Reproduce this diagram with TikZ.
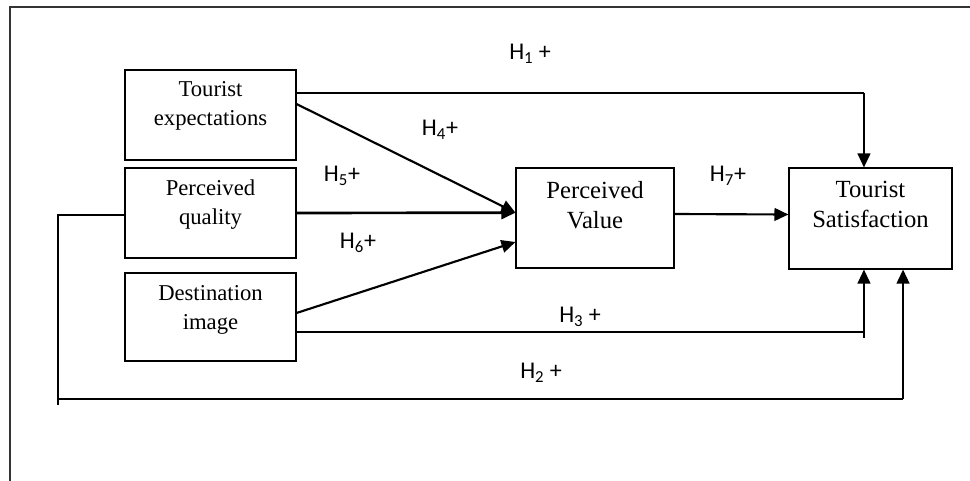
\documentclass[tikz,border=0pt]{standalone}
\usepackage{fontspec}
\setmainfont{Liberation Serif}
\newfontfamily\lblfont{Carlito}
\usetikzlibrary{arrows.meta}
\begin{document}
\begin{tikzpicture}[x=0.75pt,y=-0.75pt,
  box/.style={draw, line width=0.8pt, inner sep=0pt},
  boxtext/.style={anchor=north, align=center, inner sep=0pt, font=\fontsize{17}{21.5}\selectfont},
  bigtext/.style={anchor=north, align=center, inner sep=0pt, font=\fontsize{18.5}{22.5}\selectfont},
  hlab/.style={font=\lblfont\fontsize{18}{20}\selectfont, inner sep=0pt},
  thinline/.style={line width=0.8pt},
  arr/.style={line width=1.6pt, -{Triangle[length=10.5pt,width=9.5pt]}},
]
\useasboundingbox (0,0) rectangle (970,481);
% frame
\draw[line width=1pt, black!80] (10,481) -- (10,7) -- (970,7);

% boxes
\node[box, minimum width=171*0.75pt, minimum height=90*0.75pt] (TE) at (210.5,115) {};
\node[box, minimum width=171*0.75pt, minimum height=90*0.75pt] (PQ) at (210.5,213) {};
\node[box, minimum width=171*0.75pt, minimum height=88*0.75pt] (DI) at (210.5,317) {};
\node[box, minimum width=158*0.75pt, minimum height=100*0.75pt] (PV) at (595,218) {};
\node[box, minimum width=163*0.75pt, minimum height=101*0.75pt] (TS) at (870.5,218.5) {};

% box texts
\node[boxtext] (TEt) at ([yshift=-9pt]TE.north) {Tourist\\expectations};
\node[boxtext] (PQt) at ([yshift=-9pt]PQ.north) {Perceived\\quality};
\node[boxtext] (DIt) at ([yshift=-9.5pt]DI.north) {Destination\\image};
\node[bigtext] (PVt) at ([yshift=-10pt]PV.north) {Perceived\\Value};
\node[bigtext] (TSt) at ([yshift=-10pt]TS.north) {Tourist\\Satisfaction};

% H1
\coordinate (c1) at ([xshift=-4.9pt]TS.north |- 0,93);
\draw[thinline] ([yshift=16.5pt]TE.east) -- (c1);
\draw[arr] (c1) -- ([xshift=-4.9pt]TS.north);
% H4
\draw[arr] ([yshift=8.25pt]TE.east) -- ([yshift=4pt]PV.west);
% H5
\draw[arr, line width=2pt] (PQ.east) -- ([yshift=4pt]PV.west);
% H6
\draw[arr] ([yshift=3pt]DI.east) -- ([yshift=-18pt]PV.west);
% H7
\draw[arr] ([yshift=3pt]PV.east) -- ([yshift=3pt]TS.west);
% H3
\coordinate (c3) at ([xshift=-4.9pt]TS.south |- 0,332);
\coordinate (c3b) at ([xshift=-4.9pt]TS.south |- 0,338);
\draw[thinline] ([yshift=-11.25pt]DI.east) -- (c3);
\draw[arr] (c3b) -- ([xshift=-4.9pt]TS.south);
% H2
\coordinate (c2a) at (58,215);
\coordinate (c2b) at (58,399);
\coordinate (c2t) at (58,405);
\coordinate (c2c) at ([xshift=24.4pt]TS.south |- 0,399);
\draw[thinline, line width=1pt] ([yshift=-1.5pt]PQ.west) -- (c2a) -- (c2t);
\draw[thinline, line width=1pt] (c2b) -- (c2c);
\draw[arr] (c2c) -- ([xshift=24.4pt]TS.south);

% labels
\node[hlab] (L1) at (530,54) {H\textsubscript{1} +};
\node[hlab] (L4) at (440,130) {H\textsubscript{4}+};
\node[hlab] (L5) at (342,176) {H\textsubscript{5}+};
\node[hlab] (L6) at (358,243) {H\textsubscript{6}+};
\node[hlab] (L7) at (728,176) {H\textsubscript{7}+};
\node[hlab] (L3) at (580,317) {H\textsubscript{3} +};
\node[hlab] (L2) at (541,373) {H\textsubscript{2} +};
\end{tikzpicture}
\end{document}
